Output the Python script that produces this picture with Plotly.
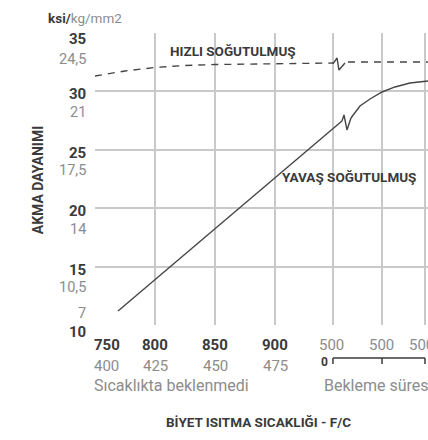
import plotly.graph_objects as go

# Billet heating temperature (deg F) and yield strength (ksi)
slow_x = [769.2, 955.8]
slow_y = [11.2, 27.47]
slow_break_x = [955.8, 957.5, 960.0, 963.3]
slow_break_y = [27.47, 27.98, 26.70, 27.72]
slow_hold_x = [963.3, 970.8, 979.2, 989.2, 1000.0, 1012.5, 1027.5]
slow_hold_y = [27.72, 28.75, 29.35, 29.95, 30.38, 30.72, 30.89]

fast_x = [750, 775, 800, 825, 850, 900, 948.3]
fast_y = [31.32, 31.75, 32.05, 32.22, 32.30, 32.39, 32.43]
fast_break_x = [948.3, 951.7, 953.3, 958.3]
fast_break_y = [32.35, 32.86, 31.83, 32.43]
fast_hold_x = [960.8, 1027.5]
fast_hold_y = [32.52, 32.52]

temp_f = [750, 800, 850, 900]
temp_c = ["400", "425", "450", "475"]
hold_pos = [948.3, 989.2, 1025]
hold_labels = ["500", "500", "500"]
ksi_ticks = [35, 30, 25, 20, 15, 10]
kgmm_ticks = ["24,5", "21", "17,5", "14", "10,5", "7"]

FONT = "Roboto, Liberation Sans, sans-serif"
DARK = "#3a3a3a"
GRAY = "#8c8c8c"
GRID = "#c9c9c9"
LINE = "#454545"

fig = go.Figure()
line = dict(color=LINE, width=1.4)
dashed = dict(color=LINE, width=1.4, dash="7px,6px")
fig.add_trace(go.Scatter(x=fast_x, y=fast_y, mode="lines", line=dashed))
fig.add_trace(go.Scatter(x=fast_break_x, y=fast_break_y, mode="lines", line=line))
fig.add_trace(go.Scatter(x=fast_hold_x, y=fast_hold_y, mode="lines", line=dashed))
fig.add_trace(go.Scatter(x=slow_x, y=slow_y, mode="lines", line=line))
fig.add_trace(go.Scatter(x=slow_break_x, y=slow_break_y, mode="lines", line=line))
fig.add_trace(go.Scatter(x=slow_hold_x, y=slow_hold_y, mode="lines", line=line))


def label(text, x, y, xref="x", yref="y", xanchor="center", xshift=0, yshift=0,
          size=14, color=DARK, **kw):
    return dict(x=x, y=y, xref=xref, yref=yref, xanchor=xanchor, yanchor="middle",
                xshift=xshift, yshift=yshift, text=text, showarrow=False,
                font=dict(size=size, color=color, family=FONT), **kw)


ann = []
# y-axis labels: ksi (bold) and kg/mm2 (gray)
for v, g in zip(ksi_ticks, kgmm_ticks):
    if v == 35:
        sb, sg = -6, -26
    elif v == 10:
        sb, sg = -7, 12
    else:
        sb, sg = -3, -21
    ann.append(label(f"<b>{v}</b>", 0, v, xref="paper", xanchor="right", xshift=-7,
                     yshift=sb, size=15))
    ann.append(label(g, 0, v, xref="paper", xanchor="right", xshift=-7,
                     yshift=sg, size=14.5, color=GRAY))

# x-axis labels: deg F (bold) and deg C (gray)
for i, (f, c) in enumerate(zip(temp_f, temp_c)):
    anchor = "left" if i == 0 else "center"
    shift = -3 if i == 0 else 0
    ann.append(label(f"<b>{f}</b>", f, 10, xanchor=anchor, xshift=shift, yshift=-20,
                     size=15))
    ann.append(label(c, f, 10, xanchor=anchor, xshift=shift, yshift=-41, size=15,
                     color=GRAY))
for i, (p, t) in enumerate(zip(hold_pos, hold_labels)):
    ann.append(label(t, p, 10, xshift=-4 if i == 2 else -1, yshift=-20, size=15,
                     color=GRAY))

# hold-time scale end marks
ann.append(label("<b>0</b>", hold_pos[0], 10, xanchor="right", xshift=-3,
                 yshift=-37, size=12))
ann.append(label("<b>2</b>", 1027.5, 10, xanchor="left", xshift=-2, yshift=-37,
                 size=12))

ann.append(label("Sıcaklıkta beklenmedi", 750, 10, xanchor="left", xshift=-3,
                 yshift=-60, size=16, color=GRAY))
ann.append(label("Bekleme süresi, d", hold_pos[0], 10, xanchor="left", xshift=-11,
                 yshift=-60, size=16, color=GRAY))

ann.append(label("<b>BİYET ISITMA SICAKLIĞI - F/C</b>", 0.492, 10, xref="paper",
                 yshift=-97, size=13.5))
ann.append(label("<b>AKMA DAYANIMI</b>", -0.171, 22.4, xref="paper", size=14,
                 textangle=-90))
ann.append(label(f"<b>ksi/</b><span style='color:{GRAY}'>kg/mm2</span>", -0.147, 1,
                 xref="paper", yref="paper", xanchor="left", yshift=15, size=13.5))

# curve labels
ann.append(label("<b>HIZLI SOĞUTULMUŞ</b>", 811, 33.45, xanchor="left", size=13.5))
ann.append(label("<b>YAVAŞ SOĞUTULMUŞ</b>", 904, 22.65, xanchor="left", size=13.5))

# hold-time scale bracket below the axis
bx0, bmid, bx1 = hold_pos
by = -33 / 292
tick = -6 / 292
shapes = []
for xv in (bx0, bmid, bx1):
    shapes.append(dict(type="line", xref="x", yref="paper", x0=xv, x1=xv, y0=by,
                       y1=by + tick, line=dict(color=DARK, width=1.5)))
shapes.append(dict(type="line", xref="x", yref="paper", x0=bx0, x1=bx1, y0=by, y1=by,
                   line=dict(color=DARK, width=1.5)))

fig.update_layout(
    width=428, height=440,
    margin=dict(l=95, r=0, t=33, b=115),
    paper_bgcolor="white", plot_bgcolor="white",
    showlegend=False,
    annotations=ann, shapes=shapes,
    xaxis=dict(range=[750, 1027.5], tickvals=temp_f + hold_pos, showticklabels=False,
               showgrid=True, gridcolor=GRID, gridwidth=2, zeroline=False,
               ticks="", showline=False),
    yaxis=dict(range=[10, 35], tickvals=ksi_ticks, showticklabels=False,
               showgrid=True, gridcolor=GRID, gridwidth=2, zeroline=False,
               ticks="", showline=False),
)

fig.write_html("out.html")
